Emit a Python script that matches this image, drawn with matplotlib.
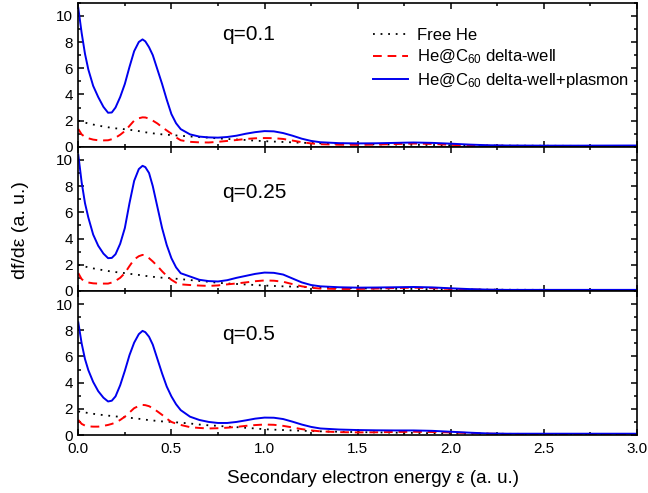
import matplotlib
matplotlib.use("Agg")
import matplotlib.pyplot as plt
from matplotlib.ticker import MultipleLocator, FormatStrFormatter

plt.rcParams['font.family'] = ['Liberation Sans', 'DejaVu Sans']
plt.rcParams['mathtext.fontset'] = 'custom'
plt.rcParams['mathtext.rm'] = 'Liberation Sans'
plt.rcParams['mathtext.it'] = 'Liberation Sans'

# Energy grid (a. u.)
energy = [0.0, 0.018, 0.036, 0.054, 0.08, 0.107, 0.135, 0.16, 0.18, 0.2, 0.225, 0.25,
          0.275, 0.3, 0.325, 0.345, 0.36, 0.38, 0.4, 0.425, 0.45, 0.475, 0.5, 0.525,
          0.55, 0.6, 0.65, 0.7, 0.75, 0.8, 0.85, 0.9, 0.95, 1.0, 1.05, 1.1, 1.15,
          1.2, 1.25, 1.3, 1.4, 1.5, 1.6, 1.7, 1.8, 1.9, 2.0, 2.1, 2.2, 2.3, 2.5,
          2.7, 3.0]

panel_labels = ["q=0.1", "q=0.25", "q=0.5"]

# Free He
free_q01 = [2.0, 1.92, 1.85, 1.78, 1.7, 1.62, 1.55, 1.49, 1.45, 1.41, 1.38, 1.34,
            1.3, 1.25, 1.2, 1.14, 1.11, 1.07, 1.03, 0.99, 0.95, 0.92, 0.9, 0.87,
            0.84, 0.79, 0.74, 0.7, 0.64, 0.6, 0.56, 0.52, 0.47, 0.43, 0.4, 0.37, 0.34,
            0.31, 0.29, 0.27, 0.24, 0.21, 0.19, 0.17, 0.15, 0.14, 0.12, 0.11, 0.1, 0.09, 0.08,
            0.07, 0.05]
free_q025 = [2.0, 1.93, 1.86, 1.8, 1.72, 1.65, 1.58, 1.52, 1.48, 1.44, 1.4, 1.36,
             1.31, 1.26, 1.22, 1.18, 1.15, 1.11, 1.08, 1.04, 1.01, 0.99, 0.97, 0.93,
             0.9, 0.83, 0.76, 0.7, 0.62, 0.57, 0.53, 0.49, 0.45, 0.41, 0.38, 0.35, 0.33,
             0.3, 0.28, 0.26, 0.23, 0.2, 0.18, 0.16, 0.15, 0.13, 0.12, 0.11, 0.1, 0.09, 0.08,
             0.07, 0.05]
free_q05 = [1.8, 1.76, 1.72, 1.68, 1.62, 1.57, 1.52, 1.48, 1.45, 1.42, 1.39, 1.36,
            1.32, 1.28, 1.24, 1.2, 1.17, 1.14, 1.11, 1.07, 1.04, 1.02, 1.0, 0.97,
            0.94, 0.88, 0.8, 0.74, 0.7, 0.64, 0.6, 0.55, 0.5, 0.44, 0.41, 0.38, 0.35,
            0.33, 0.3, 0.28, 0.25, 0.22, 0.2, 0.18, 0.16, 0.14, 0.12, 0.11, 0.1, 0.09, 0.08,
            0.07, 0.05]

# He@C60 delta-well
dw_q01 = [1.36, 0.95, 0.75, 0.65, 0.55, 0.5, 0.49, 0.5, 0.58, 0.7, 0.92, 1.2,
          1.6, 2.0, 2.18, 2.25, 2.24, 2.15, 2.0, 1.78, 1.5, 1.25, 1.0, 0.72,
          0.5, 0.38, 0.34, 0.33, 0.38, 0.45, 0.52, 0.6, 0.65, 0.67, 0.66, 0.6, 0.48,
          0.35, 0.26, 0.2, 0.16, 0.15, 0.17, 0.21, 0.25, 0.22, 0.15, 0.1, 0.08, 0.07, 0.06,
          0.05, 0.05]
dw_q025 = [1.36, 0.9, 0.72, 0.64, 0.58, 0.56, 0.56, 0.56, 0.64, 0.77, 1.0, 1.36,
           1.9, 2.4, 2.65, 2.75, 2.7, 2.5, 2.25, 1.9, 1.5, 1.15, 0.85, 0.63,
           0.5, 0.45, 0.41, 0.38, 0.42, 0.5, 0.57, 0.65, 0.74, 0.8, 0.78, 0.7, 0.52,
           0.35, 0.24, 0.18, 0.15, 0.15, 0.18, 0.22, 0.25, 0.21, 0.15, 0.1, 0.08, 0.07, 0.06,
           0.05, 0.05]
dw_q05 = [1.15, 0.85, 0.72, 0.66, 0.64, 0.64, 0.7, 0.77, 0.85, 0.95, 1.15, 1.4,
          1.72, 2.05, 2.22, 2.3, 2.28, 2.2, 2.05, 1.8, 1.54, 1.25, 1.0, 0.87,
          0.77, 0.6, 0.54, 0.5, 0.52, 0.56, 0.62, 0.7, 0.76, 0.8, 0.78, 0.7, 0.58,
          0.45, 0.35, 0.28, 0.22, 0.2, 0.21, 0.23, 0.25, 0.23, 0.2, 0.15, 0.1, 0.08, 0.06,
          0.05, 0.05]

# He@C60 delta-well + plasmon
pl_q01 = [10.6, 8.7, 7.1, 5.9, 4.65, 3.8, 3.05, 2.6, 2.62, 3.0, 3.8, 4.8,
          6.1, 7.3, 8.0, 8.2, 8.05, 7.6, 7.0, 5.9, 4.8, 3.6, 2.5, 1.8,
          1.35, 0.95, 0.78, 0.72, 0.7, 0.75, 0.85, 1.0, 1.12, 1.2, 1.18, 1.05, 0.85,
          0.62, 0.45, 0.35, 0.28, 0.26, 0.27, 0.3, 0.33, 0.3, 0.24, 0.17, 0.12, 0.1, 0.09,
          0.09, 0.1]
pl_q025 = [10.4, 8.3, 6.7, 5.6, 4.3, 3.45, 2.85, 2.5, 2.52, 2.8, 3.6, 4.8,
           6.7, 8.4, 9.3, 9.55, 9.45, 9.0, 8.0, 6.4, 4.8, 3.5, 2.5, 1.8,
           1.35, 1.1, 0.85, 0.75, 0.72, 0.82, 1.0, 1.15, 1.3, 1.4, 1.38, 1.25, 0.95,
           0.65, 0.45, 0.35, 0.28, 0.25, 0.26, 0.28, 0.3, 0.27, 0.2, 0.14, 0.1, 0.08, 0.08,
           0.08, 0.08]
pl_q05 = [8.6, 7.0, 5.8, 4.95, 4.05, 3.35, 2.85, 2.56, 2.62, 2.95, 3.8, 4.9,
          6.1, 7.05, 7.7, 7.95, 7.85, 7.5, 6.9, 5.8, 4.7, 3.7, 2.95, 2.35,
          1.9, 1.4, 1.15, 1.0, 0.92, 0.92, 1.0, 1.12, 1.25, 1.33, 1.32, 1.22, 1.02,
          0.8, 0.62, 0.5, 0.42, 0.38, 0.36, 0.35, 0.35, 0.32, 0.25, 0.18, 0.12, 0.1, 0.1,
          0.1, 0.1]

free_sets = [free_q01, free_q025, free_q05]
dw_sets = [dw_q01, dw_q025, dw_q05]
pl_sets = [pl_q01, pl_q025, pl_q05]

fig = plt.figure(figsize=(6.48, 4.93), dpi=100)
left, right = 0.1208, 0.983
bottom, top = 0.1176, 0.9945
h = (top - bottom) / 3.0

axes = []
for i in range(3):
    ax = fig.add_axes([left, top - (i + 1) * h, right - left, h])
    axes.append(ax)
    ax.plot(energy, free_sets[i], color='black', linestyle=(0, (1, 3.2)), lw=1.3,
            label='Free He')
    ax.plot(energy, dw_sets[i], color='red', linestyle=(0, (4.5, 3)), lw=1.4,
            label=r'He@C$_{60}$ delta-well')
    ax.plot(energy, pl_sets[i], color='#0000ee', linestyle='-', lw=1.4,
            label=r'He@C$_{60}$ delta-well+plasmon')
    ax.set_xlim(0, 3.0)
    ax.set_ylim(0, 11)
    ax.xaxis.set_major_locator(MultipleLocator(0.5))
    ax.xaxis.set_minor_locator(MultipleLocator(0.25))
    ax.yaxis.set_major_locator(MultipleLocator(2))
    ax.yaxis.set_minor_locator(MultipleLocator(1))
    ax.tick_params(which='both', direction='in', top=True, right=True, width=1.1)
    ax.tick_params(which='major', length=4.5)
    ax.tick_params(which='minor', length=2.5)
    ax.tick_params(axis='y', labelsize=11, pad=4)
    ax.tick_params(axis='x', labelsize=11, pad=5)
    for sp in ax.spines.values():
        sp.set_linewidth(1.2)
    if i < 2:
        ax.tick_params(axis='x', labelbottom=False)
    else:
        ax.xaxis.set_major_formatter(FormatStrFormatter('%.1f'))

label_pos = [(0.77, 8.6), (0.77, 7.5), (0.77, 7.7)]
for ax, txt, (tx, ty) in zip(axes, panel_labels, label_pos):
    ax.text(tx, ty, txt, fontsize=15, va='center', ha='left')

axes[0].legend(loc='upper left', bbox_to_anchor=(0.5275, 0.825), frameon=False,
               fontsize=12, handlelength=2.1, handletextpad=0.55,
               labelspacing=0.3, borderaxespad=0.0, borderpad=0.0)

axes[2].set_xlabel('Secondary electron energy \u03b5 (a. u.)', fontsize=13.5)
axes[2].xaxis.set_label_coords(0.527, -0.3)
axes[2].xaxis.label.set_va('center')
fig.text(0.031, 0.533, 'df/d\u03b5 (a. u.)', rotation=90,
         fontsize=14, va='center', ha='center')

fig.savefig('out.png', dpi=100)
